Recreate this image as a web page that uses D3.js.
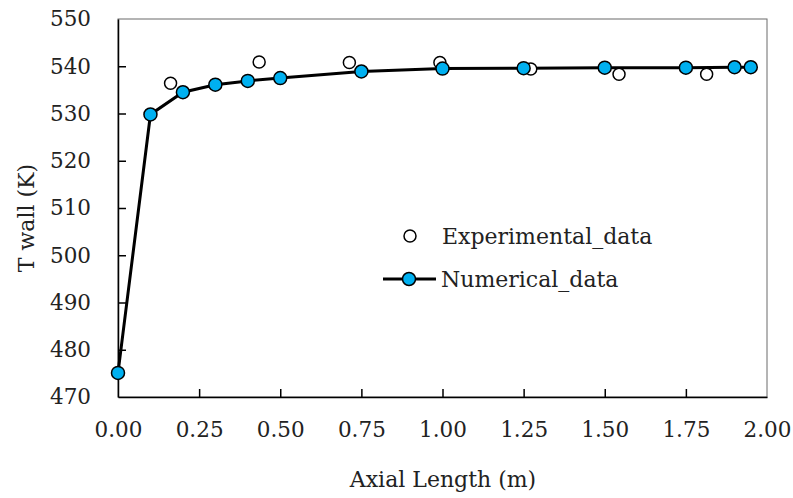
<!DOCTYPE html>
<html lang="en">
<head>
<meta charset="UTF-8">
<title>T wall vs axial length</title>
<style>
    body { margin: 0; background: #fff; }
    svg text { font-family: "DejaVu Serif", serif; fill: #222; }
    .axis path, .axis line { stroke: #000; stroke-width: 1.5; }
    .axis text { font-size: 21.5px; }
    .frame { fill: none; stroke: #6b6b6b; stroke-width: 1; }
    .num-line { fill: none; stroke: #000; stroke-width: 3; }
    .num-pt { fill: #00b0f0; stroke: #000; stroke-width: 1.5; }
    .exp-pt { fill: #fff; stroke: #000; stroke-width: 1.5; }
    .label { font-size: 22px; }
</style>
</head>
<body>
<svg width="793" height="498"></svg>
<script src="https://d3js.org/d3.v7.min.js"></script>
<script>
    // numerical results
    const numX = [0, 0.1, 0.2, 0.3, 0.4, 0.5, 0.75, 1.0, 1.25, 1.5, 1.75, 1.9, 1.95];
    const numY = [475.1, 529.8, 534.5, 536.1, 536.9, 537.5, 538.9, 539.5, 539.6, 539.7, 539.7, 539.8, 539.8];

    // experimental measurements
    const expX = [0.162, 0.435, 0.713, 0.992, 1.272, 1.544, 1.814];
    const expY = [536.4, 540.9, 540.8, 540.8, 539.4, 538.3, 538.3];

    const xTicks = [0, 0.25, 0.5, 0.75, 1.0, 1.25, 1.5, 1.75, 2.0];
    const yTicks = [470, 480, 490, 500, 510, 520, 530, 540, 550];

    const margin = {top: 19, right: 26, bottom: 101, left: 118};
    const width = 793 - margin.left - margin.right;
    const height = 498 - margin.top - margin.bottom;

    const svg = d3.select("svg");
    const g = svg.append("g")
        .attr("transform", `translate(${margin.left},${margin.top})`);

    const x = d3.scaleLinear().domain([0, 2]).range([0, width]);
    const y = d3.scaleLinear().domain([470, 550]).range([height, 0]);

    // thin frame on top and right
    g.append("rect")
        .attr("class", "frame")
        .attr("x", 0).attr("y", 0)
        .attr("width", width).attr("height", height);

    const xAxis = g.append("g")
        .attr("class", "axis")
        .attr("transform", `translate(0,${height})`)
        .call(d3.axisBottom(x).tickValues(xTicks).tickFormat(d3.format(".2f"))
            .tickSizeInner(-8).tickSizeOuter(0).tickPadding(25));

    const yAxis = g.append("g")
        .attr("class", "axis")
        .call(d3.axisLeft(y).tickValues(yTicks)
            .tickSizeInner(-8).tickSizeOuter(0).tickPadding(27));

    xAxis.selectAll(".tick").filter(d => d === 0 || d === 2).select("line").remove();
    yAxis.selectAll(".tick").filter(d => d === 470 || d === 550).select("line").remove();

    // numerical line + markers
    const numData = numX.map((v, i) => [v, numY[i]]);
    const expData = expX.map((v, i) => [v, expY[i]]);

    g.append("path")
        .datum(numData)
        .attr("class", "num-line")
        .attr("d", d3.line().x(d => x(d[0])).y(d => y(d[1])));

    g.selectAll(".exp-pt")
        .data(expData)
        .enter().append("circle")
        .attr("class", "exp-pt")
        .attr("cx", d => x(d[0]))
        .attr("cy", d => y(d[1]))
        .attr("r", 6);

    g.selectAll(".num-pt")
        .data(numData)
        .enter().append("circle")
        .attr("class", "num-pt")
        .attr("cx", d => x(d[0]))
        .attr("cy", d => y(d[1]))
        .attr("r", 6.5);

    // axis titles
    svg.append("text")
        .attr("class", "label")
        .attr("text-anchor", "middle")
        .attr("x", 443).attr("y", 487)
        .text("Axial Length (m)");

    svg.append("text")
        .attr("class", "label")
        .attr("text-anchor", "middle")
        .attr("transform", "translate(34,218) rotate(-90)")
        .text("T wall (K)");

    // legend
    const legend = svg.append("g").attr("transform", "translate(383,236)");
    legend.append("circle").attr("class", "exp-pt").attr("cx", 27).attr("cy", 0).attr("r", 6);
    legend.append("text").attr("class", "label").attr("x", 59).attr("y", 8).text("Experimental_data");

    legend.append("line").attr("class", "num-line").attr("x1", 0).attr("x2", 53).attr("y1", 43).attr("y2", 43);
    legend.append("circle").attr("class", "num-pt").attr("cx", 26).attr("cy", 43).attr("r", 6.5);
    legend.append("text").attr("class", "label").attr("x", 58).attr("y", 51).text("Numerical_data");
</script>
</body>
</html>
